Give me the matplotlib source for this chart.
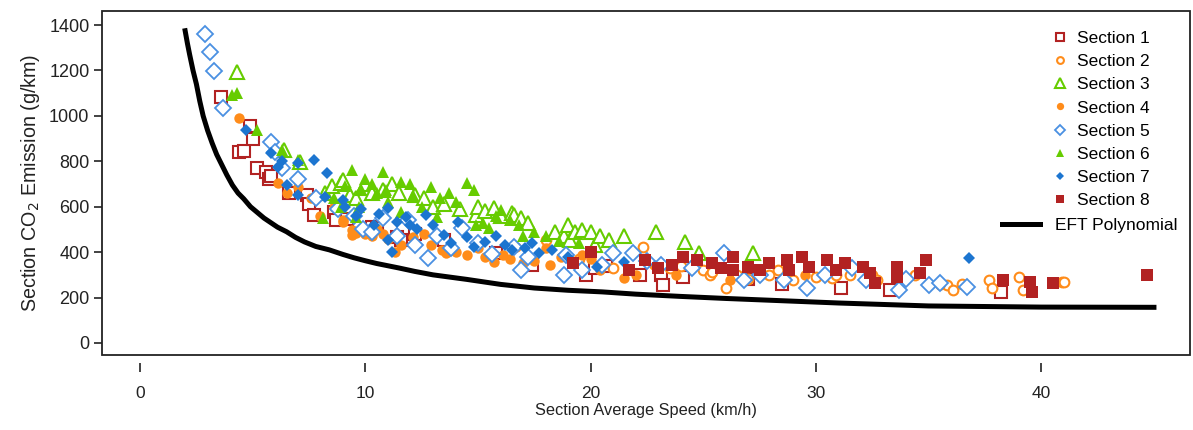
import numpy as np
import matplotlib.pyplot as plt
from matplotlib.patches import Rectangle

plt.rcParams['font.family'] = ['Liberation Sans', 'DejaVu Sans']

# Section 1 .. 8 : average speed (km/h) and CO2 emission (g/km)
s1_x = [3.6, 4.4, 4.6, 4.9, 5.0, 5.2, 5.6, 5.7, 5.8, 6.6, 7.4, 7.5, 7.7, 8.6, 8.7, 9.2, 10.3, 10.5, 11.4, 11.6,
        12.2, 13.5, 15.8, 17.4, 19.8, 20.2, 20.7, 22.2, 23.1, 23.2, 24.1, 27.0, 28.5, 31.1, 33.3, 38.2]
s1_y = [1085, 840, 845, 955, 900, 770, 755, 720, 735, 660, 650, 610, 565, 575, 540, 545, 510, 505, 465, 455,
        480, 455, 395, 345, 300, 330, 340, 300, 300, 255, 290, 280, 260, 240, 235, 225]

s2_x = [18.0, 19.5, 21.0, 22.3, 23.5, 24.0, 25.0, 25.3, 25.4, 26.0, 26.5, 27.0, 27.9, 28.3, 29.0, 30.0, 30.7,
        30.9, 31.5, 32.5, 32.7, 34.4, 35.8, 36.1, 36.5, 37.7, 37.8, 39.0, 39.2, 40.9, 41.0]
s2_y = [454, 370, 330, 423, 330, 340, 321, 299, 313, 242, 300, 280, 299, 320, 277, 290, 286,
        300, 300, 299, 277, 299, 255, 233, 260, 277, 242, 291, 233, 269, 269]

s3_x = [4.3, 6.4, 7.1, 8.2, 8.5, 8.9, 9.0, 9.3, 9.6, 9.9, 10.0, 10.3, 10.8, 11.2, 11.5, 12.2, 12.6, 13.0,
        13.5, 14.2, 14.9, 15.0, 15.3, 15.7, 16.0, 16.5, 16.6, 16.9, 17.2, 18.4, 18.8, 19.0, 19.1, 19.3,
        19.6, 20.0, 20.2, 20.4, 20.8, 21.5, 22.9, 24.2, 24.8, 27.2]
s3_y = [1193, 850, 797, 660, 690, 705, 718, 650, 640, 683, 700, 660, 674, 700, 660, 652, 640, 600,
        610, 590, 564, 600, 580, 594, 560, 572, 564, 550, 530, 489, 470, 520, 454, 489,
        498, 489, 430, 470, 454, 470, 489, 445, 396, 396]

s4_x = [4.4, 6.1, 6.5, 7.0, 7.6, 8.0, 8.6, 9.0, 9.0, 9.4, 9.4, 9.6, 10.0, 10.3, 10.5, 10.8, 11.0, 11.3,
        11.6, 12.1, 12.6, 12.9, 13.4, 13.6, 14.0, 14.5, 15.0, 15.3, 15.7, 16.1, 16.4, 16.7, 17.0, 17.5,
        18.0, 18.2, 18.7, 19.6, 20.0, 20.4, 21.5, 22.0, 22.8, 23.8, 26.2, 29.5, 35.5]
s4_y = [990, 705, 660, 687, 640, 560, 599, 542, 533, 498, 476, 484, 480, 470, 500, 480, 460, 400,
        430, 467, 480, 430, 410, 395, 400, 387, 420, 380, 357, 387, 370, 423, 350, 360,
        418, 343, 380, 387, 370, 320, 286, 300, 343, 299, 277, 300, 255]

s5_x = [2.9, 3.1, 3.3, 3.7, 5.8, 6.0, 6.3, 7.0, 7.8, 8.8, 9.5, 9.9, 10.3, 10.8, 11.4, 11.9, 12.2, 12.8,
        13.2, 13.8, 14.3, 15.0, 15.6, 16.6, 16.9, 17.2, 18.8, 18.9, 19.6, 20.5, 21.0, 21.9, 22.5, 23.1,
        24.5, 25.9, 26.8, 27.5, 28.6, 29.6, 30.4, 31.6, 32.2, 33.7, 34.0, 35.0, 35.5, 36.7]
s5_y = [1360, 1280, 1198, 1035, 885, 840, 770, 720, 640, 590, 560, 500, 489, 550, 470, 540, 430, 374,
        470, 420, 506, 440, 390, 423, 321, 380, 300, 387, 320, 343, 396, 396, 360, 343,
        330, 396, 277, 300, 277, 242, 299, 330, 277, 233, 280, 255, 264, 247]

s6_x = [4.1, 4.3, 5.2, 6.3, 7.0, 8.1, 8.6, 8.9, 9.1, 9.4, 9.6, 9.7, 9.8, 10.0, 10.3, 10.5, 10.8, 10.9,
        11.0, 11.6, 11.6, 12.0, 12.1, 12.5, 12.9, 13.2, 13.3, 13.7, 14.0, 14.5, 14.8, 14.9, 15.2, 15.5,
        15.8, 16.0, 16.4, 16.8, 17.0, 17.5, 18.0, 18.6, 19.5]
s6_y = [1092, 1100, 938, 850, 806, 550, 640, 600, 690, 762, 555, 600, 680, 720, 700, 660, 753, 674,
        620, 709, 577, 700, 652, 600, 687, 555, 638, 660, 620, 705, 674, 520, 530, 506,
        560, 586, 540, 520, 470, 489, 470, 450, 440]

s7_x = [4.7, 5.8, 6.1, 6.3, 6.5, 7.0, 7.0, 7.7, 8.2, 8.3, 9.0, 9.1, 9.6, 9.8, 10.4, 10.6, 11.0, 11.0,
        11.2, 11.4, 11.8, 12.0, 12.3, 12.7, 13.0, 13.5, 13.8, 14.1, 14.5, 14.8, 15.3, 15.8, 16.2, 16.5,
        17.1, 17.4, 17.7, 18.3, 19.0, 20.3, 21.5, 36.8]
s7_y = [938, 837, 775, 800, 696, 793, 652, 806, 643, 749, 630, 600, 560, 590, 520, 570, 594, 454,
        400, 533, 555, 520, 500, 564, 520, 476, 440, 533, 467, 423, 445, 470, 430, 410,
        418, 440, 396, 410, 380, 335, 357, 372]

s8_x = [19.2, 20.0, 21.7, 22.4, 23.0, 23.6, 24.1, 24.7, 25.4, 25.8, 26.3, 26.3, 27.0, 27.5, 27.9, 28.7,
        28.8, 29.4, 29.7, 30.5, 30.9, 31.3, 32.1, 32.4, 32.6, 33.6, 33.6, 34.6, 34.9, 38.3, 39.5, 39.6,
        40.5, 44.7]
s8_y = [352, 400, 321, 365, 330, 343, 379, 365, 352, 330, 379, 321, 335, 321, 352, 365,
        321, 379, 335, 365, 321, 350, 335, 308, 264, 335, 291, 308, 365, 277, 269, 225,
        264, 299]

# EFT polynomial curve
eft_x = [2.0, 2.1, 2.2, 2.35, 2.5, 2.65, 2.8, 3.0, 3.2, 3.4, 3.6, 3.85, 4.1, 4.35, 4.6, 4.9, 5.2, 5.5,
         5.8, 6.1, 6.5, 6.9, 7.3, 7.8, 8.4, 9.0, 9.5, 10.0, 10.5, 11.5, 12.2, 13.0, 14.5, 16.0, 17.5,
         19.0, 20.5, 22.0, 24.0, 26.0, 28.0, 31.0, 35.0, 40.0, 45.0]
eft_y = [1375, 1320, 1270, 1200, 1140, 1065, 1000, 935, 880, 830, 790, 740, 695, 660, 635, 600, 575, 550,
         530, 510, 490, 465, 445, 425, 410, 390, 375, 362, 350, 330, 315, 300, 280, 258, 242,
         232, 225, 215, 205, 196, 188, 176, 163, 158, 157]

red = '#B22222'
orange = '#FF8C1A'
green = '#66CC00'
blue_l = '#4A90E2'
blue = '#1C75D0'

series = [
    ('Section 1', s1_x, s1_y, dict(marker='s', ms=9, mfc='white', mec=red, mew=1.5)),
    ('Section 2', s2_x, s2_y, dict(marker='o', ms=7, mfc='white', mec=orange, mew=1.5)),
    ('Section 3', s3_x, s3_y, dict(marker='^', ms=10, mfc='white', mec=green, mew=1.5)),
    ('Section 4', s4_x, s4_y, dict(marker='o', ms=7.5, mfc=orange, mec=orange, mew=0)),
    ('Section 5', s5_x, s5_y, dict(marker='D', ms=8, mfc='white', mec=blue_l, mew=1.3)),
    ('Section 6', s6_x, s6_y, dict(marker='^', ms=9, mfc=green, mec=green, mew=0)),
    ('Section 7', s7_x, s7_y, dict(marker='D', ms=6.5, mfc=blue, mec=blue, mew=0)),
    ('Section 8', s8_x, s8_y, dict(marker='s', ms=8.5, mfc=red, mec=red, mew=0)),
]

fig = plt.figure(figsize=(11.93, 4.30), dpi=100)
ax = fig.add_axes([102 / 1193, 75 / 430, 1088 / 1193, 344 / 430])

handles = []
for name, xs, ys, st in series:
    h, = ax.plot(xs, ys, linestyle='none', label=name, **st)
    handles.append(h)

line, = ax.plot(eft_x, eft_y, color='black', lw=3.6, label='EFT Polynomial')

ax.set_xlim(-1.69, 46.6)
ax.set_ylim(-53, 1462)
ax.set_xticks([0, 10, 20, 30, 40])
ax.set_yticks(range(0, 1401, 200))

for s in ax.spines.values():
    s.set_visible(False)
ax.spines['bottom'].set_position(('outward', 6))
ax.add_patch(Rectangle((0, 0), 1, 1, transform=ax.transAxes, fill=False,
                       lw=1.3, edgecolor='#222222', clip_on=False, zorder=5))

ax.tick_params(axis='x', direction='out', length=6.5, width=1.2, pad=10, labelsize=12.5, colors='#222222')
ax.tick_params(axis='y', direction='out', length=6, width=1.2, pad=3, labelsize=13, colors='#222222')

ax.set_xlabel('Section Average Speed (km/h)', fontsize=11.8, labelpad=1, color='#222222')
ax.set_ylabel('Section CO$_2$ Emission (g/km)', fontsize=14.2, labelpad=5, color='#222222')

leg1 = fig.legend(handles=handles, loc='upper left', bbox_to_anchor=(1051 / 1193, 1 - 31 / 430),
                  frameon=False, fontsize=12.5, markerscale=0.7, handlelength=1.0, handletextpad=0.5,
                  labelspacing=0.46, borderpad=0, borderaxespad=0)
fig.legend(handles=[line], loc='upper left', bbox_to_anchor=(1002 / 1193, 1 - 218 / 430),
           frameon=False, fontsize=12.5, handlelength=2.2, handletextpad=0.86,
           borderpad=0, borderaxespad=0)

fig.savefig('out.png', dpi=100)
